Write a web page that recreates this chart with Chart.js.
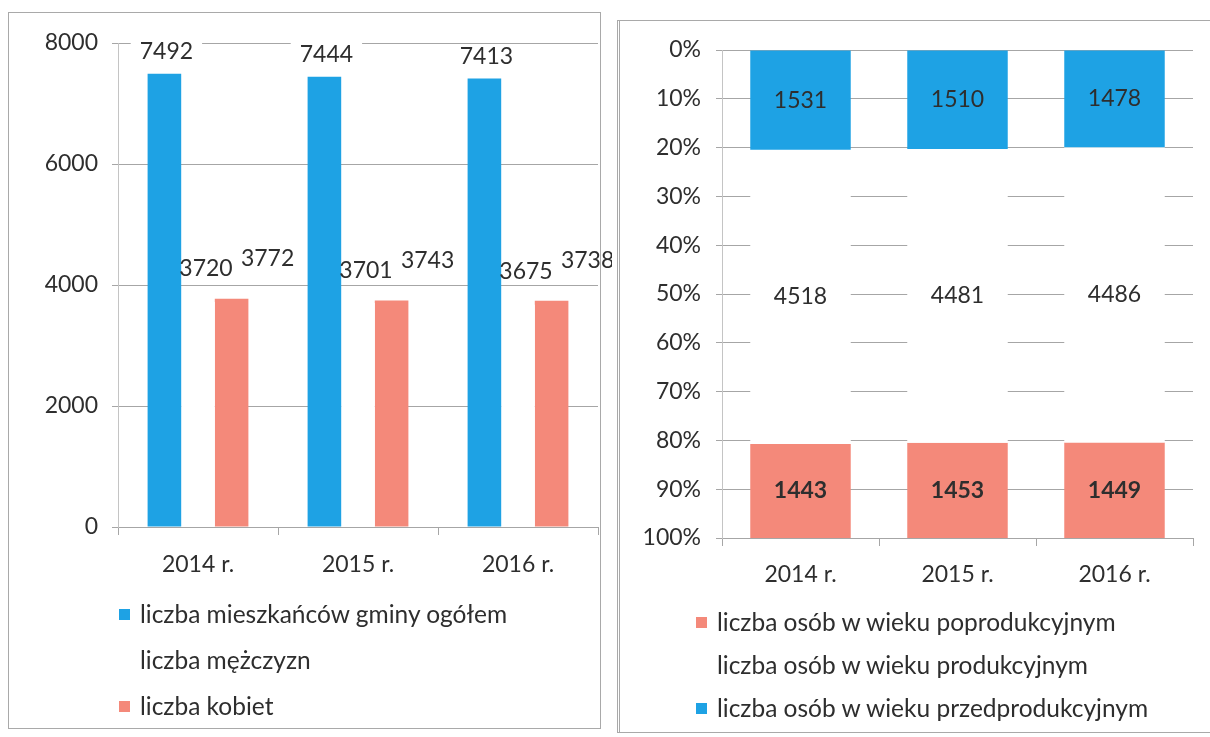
<!DOCTYPE html>
<html>
<head>
<meta charset="utf-8">
<script src="https://cdn.jsdelivr.net/npm/chart.js@4/dist/chart.umd.min.js"></script>
<style>
  body { margin: 0; width: 1210px; height: 737px; overflow: hidden; position: relative; background: #fff; font-family: Lato, sans-serif; color: #2e2e2e; }
  .frame { position: absolute; border: 1px solid #a9a9a9; }
  .wrap { position: absolute; }
  .legend { position: absolute; font-size: 24.5px; line-height: 1; }
  .legend .row { display: flex; align-items: center; white-space: nowrap; }
  .legend .sw { width: 11px; height: 11px; margin-right: 10px; flex: none; }
</style>
</head>
<body>
<div class="frame" style="left:8px;top:12px;width:591px;height:715px;"></div>
<div class="frame" style="left:617px;top:20px;width:600px;height:711px;border-left:3px double #a9a9a9;"></div>

<div class="wrap" style="left:8px;top:12px;width:604px;height:580px;"><canvas id="peopleChart"></canvas></div>
<div class="wrap" style="left:620px;top:20px;width:585px;height:585px;"><canvas id="ageChart"></canvas></div>

<div class="legend" id="peopleLegend" style="left:119px;top:591px;"></div>
<div class="legend" id="ageLegend" style="left:696px;top:601px;"></div>

<script>
// --- data ---
const years = ['2014 r.', '2015 r.', '2016 r.'];

const totalResidents = [7492, 7444, 7413];
const menCount = [3720, 3701, 3675];
const womenCount = [3772, 3743, 3738];

const preWorkingAge = [1531, 1510, 1478];
const workingAge = [4518, 4481, 4486];
const postWorkingAge = [1443, 1453, 1449];

const BLUE = '#1ea2e4';
const SALMON = '#f4897a';
const GRID = '#a6a6a6';
const TEXT = '#2e2e2e';
const FONT_SIZE = 23;

Chart.defaults.font.family = 'Lato';
Chart.defaults.font.size = FONT_SIZE;
Chart.defaults.color = TEXT;

// value labels, drawn from the bar elements themselves
const valueLabels = {
    id: 'valueLabels',
    afterDatasetsDraw(chart) {
        const ctx = chart.ctx;
        ctx.save();
        ctx.textAlign = 'center';
        ctx.textBaseline = 'middle';
        chart.data.datasets.forEach((ds, i) => {
            const meta = chart.getDatasetMeta(i);
            const shown = ds.shownValues || ds.data;
            meta.data.forEach((bar, j) => {
                const txt = String(shown[j]);
                ctx.font = (ds.labelBold ? 'bold ' : '') + FONT_SIZE + 'px Lato';
                let x = bar.x, y;
                if (ds.labelInside) {
                    y = (bar.y + bar.base) / 2;
                } else {
                    x += ds.labelDx || 0;
                    y = bar.y + (ds.labelDy || -20);
                }
                if (ds.labelBg) {
                    const w = ctx.measureText(txt).width + 18;
                    ctx.fillStyle = '#fff';
                    ctx.fillRect(x - w / 2, y - 12, w, 24);
                }
                ctx.fillStyle = TEXT;
                ctx.fillText(txt, x, y);
            });
        });
        ctx.restore();
    }
};

function buildLegend(el, items, rowH) {
    items.forEach(it => {
        const row = document.createElement('div');
        row.className = 'row';
        row.style.height = rowH + 'px';
        const sw = document.createElement('span');
        sw.className = 'sw';
        sw.style.background = it.color;
        const t = document.createElement('span');
        t.textContent = it.label;
        row.appendChild(sw);
        row.appendChild(t);
        el.appendChild(row);
    });
}

function draw() {
    // 1. Residents (grouped bars)
    new Chart(document.getElementById('peopleChart'), {
        type: 'bar',
        data: {
            labels: years,
            datasets: [
                { label: 'liczba mieszkańców gminy ogółem', data: totalResidents, backgroundColor: BLUE,
                  labelDx: 2, labelDy: -22, labelBg: true },
                { label: 'liczba mężczyzn', data: menCount, backgroundColor: '#ffffff',
                  labelDx: 8, labelDy: -33 },
                { label: 'liczba kobiet', data: womenCount, backgroundColor: SALMON,
                  labelDx: 36, labelDy: -40 }
            ]
        },
        options: {
            responsive: true,
            maintainAspectRatio: false,
            animation: false,
            layout: { padding: { top: 31, right: 14, left: 0, bottom: 0 } },
            categoryPercentage: 0.63,
            barPercentage: 1.0,
            plugins: { legend: { display: false }, tooltip: { enabled: false } },
            scales: {
                x: {
                    afterFit: s => { s.height = 65; },
                    grid: { drawOnChartArea: false, tickLength: 8, color: GRID },
                    border: { color: GRID },
                    ticks: { padding: 16 }
                },
                y: {
                    min: 0, max: 8000,
                    afterFit: s => { s.width = 110; },
                    ticks: { stepSize: 2000, padding: 14, callback: v => String(v) },
                    grid: { color: GRID, tickLength: 6 },
                    border: { color: '#c4c4c4' }
                }
            }
        },
        plugins: [valueLabels]
    });

    // 2. Age structure (100% stacked, reversed axis)
    const totals = years.map((_, i) => preWorkingAge[i] + workingAge[i] + postWorkingAge[i]);
    const share = arr => arr.map((v, i) => v / totals[i] * 100);

    new Chart(document.getElementById('ageChart'), {
        type: 'bar',
        data: {
            labels: years,
            datasets: [
                { label: 'liczba osób w wieku przedprodukcyjnym', data: share(preWorkingAge), shownValues: preWorkingAge,
                  backgroundColor: BLUE, labelInside: true },
                { label: 'liczba osób w wieku produkcyjnym', data: share(workingAge), shownValues: workingAge,
                  backgroundColor: '#ffffff', labelInside: true },
                { label: 'liczba osób w wieku poprodukcyjnym', data: share(postWorkingAge), shownValues: postWorkingAge,
                  backgroundColor: SALMON, labelInside: true, labelBold: true }
            ]
        },
        options: {
            responsive: true,
            maintainAspectRatio: false,
            animation: false,
            layout: { padding: { top: 30, right: 12, left: 0, bottom: 0 } },
            categoryPercentage: 0.64,
            barPercentage: 1.0,
            plugins: { legend: { display: false }, tooltip: { enabled: false } },
            scales: {
                x: {
                    stacked: true,
                    afterFit: s => { s.height = 67; },
                    grid: { drawOnChartArea: false, tickLength: 8, color: GRID },
                    border: { color: GRID },
                    ticks: { padding: 15 }
                },
                y: {
                    stacked: true,
                    reverse: true,
                    min: 0, max: 100,
                    afterFit: s => { s.width = 102; },
                    ticks: { stepSize: 10, padding: 15, callback: v => v + '%' },
                    grid: { color: GRID, tickLength: 6 },
                    border: { color: '#c4c4c4' }
                }
            }
        },
        plugins: [valueLabels]
    });

    buildLegend(document.getElementById('peopleLegend'), [
        { label: 'liczba mieszkańców gminy ogółem', color: BLUE },
        { label: 'liczba mężczyzn', color: '#ffffff' },
        { label: 'liczba kobiet', color: SALMON }
    ], 46);

    buildLegend(document.getElementById('ageLegend'), [
        { label: 'liczba osób w wieku poprodukcyjnym', color: SALMON },
        { label: 'liczba osób w wieku produkcyjnym', color: '#ffffff' },
        { label: 'liczba osób w wieku przedprodukcyjnym', color: BLUE }
    ], 43);
}

if (document.fonts && document.fonts.load) {
    Promise.all([document.fonts.load('23px Lato'), document.fonts.load('bold 23px Lato')]).then(draw, draw);
} else {
    draw();
}
</script>
</body>
</html>
